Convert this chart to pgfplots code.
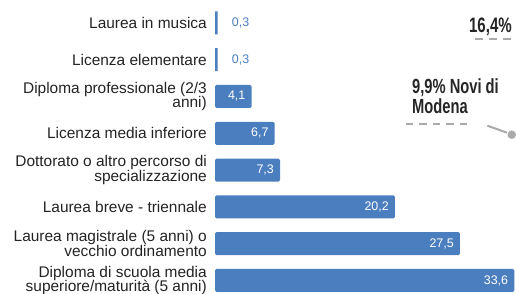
\documentclass[border=0pt]{standalone}
\usepackage{fontspec}
\setmainfont{Liberation Sans}
\newfontfamily\condfont[FakeStretch=0.72,UprightFont=*-Bold]{Liberation Sans}
\usepackage{pgfplots}
\pgfplotsset{compat=1.18}
\definecolor{barblue}{RGB}{74,126,190}
\definecolor{labelgray}{RGB}{35,35,35}
\definecolor{dashgray}{RGB}{170,170,170}
\begin{document}
\begin{tikzpicture}[x=1bp,y=1bp]
\useasboundingbox (0,0) rectangle (516,293);
\begin{axis}[
  at={(215bp,0bp)}, anchor=south west,
  scale only axis, width=301bp, height=293bp,
  xmin=0, xmax=33.79, ymin=-0.34, ymax=7.622,
  axis line style={draw=none}, xtick=\empty,
  ytick={0,1,2,3,4,5,6,7}, major tick length=0pt,
  yticklabels={{Diploma di scuola media\\superiore/maturità (5 anni)},
    {Laurea magistrale (5 anni) o\\vecchio ordinamento},
    {Laurea breve - triennale},
    {Dottorato o altro percorso di\\specializzazione},
    {Licenza media inferiore},
    {Diploma professionale (2/3\\anni)},
    {Licenza elementare},
    {Laurea in musica}},
  yticklabel style={align=right, font=\fontsize{15.5}{14.8}\selectfont, text=labelgray, inner sep=0pt, xshift=-8bp},
  clip=false,
  /pgf/number format/use comma,
  /pgf/number format/fixed,
  /pgf/number format/fixed zerofill,
  /pgf/number format/precision=1,
  /pgf/number format/assume math mode=true,
]
\addplot[xbar, bar width=23bp, bar shift=0pt, fill=barblue, draw=none, rounded corners=1.5bp,
  point meta=x, nodes near coords,
  nodes near coords style={anchor=east, text=white, font=\fontsize{12.5}{13}\selectfont, inner sep=0pt, xshift=-6bp}]
  coordinates {(33.6,0) (27.5,1) (20.2,2) (7.3,3) (6.7,4) (4.1,5)};
\addplot[xbar, bar width=23bp, bar shift=0pt, fill=barblue, draw=none,
  point meta=x, nodes near coords,
  nodes near coords style={anchor=west, text=barblue, font=\fontsize{12.5}{13}\selectfont, inner sep=0pt, xshift=14bp}]
  coordinates {(0.3,6) (0.3,7)};
\addplot[dashgray, line width=2bp, dash pattern=on 8bp off 6bp, forget plot] coordinates {(29.19,6.549) (33.23,6.549)};
\addplot[dashgray, line width=2bp, dash pattern=on 7.5bp off 6bp, forget plot] coordinates {(21.44,4.245) (28.51,4.245)};
\addplot[dashgray, line width=2bp, forget plot] coordinates {(30.57,4.207) (32.78,4.016)};
\addplot[dashgray, only marks, mark=*, mark size=4bp, forget plot] coordinates {(33.31,3.962)};
\end{axis}
\node[anchor=base east, font=\condfont\fontsize{21}{20}\selectfont, text=black!85, inner sep=0pt] at (512,261) {16,4\%};
\node[anchor=base west, font=\condfont\fontsize{20.5}{20}\selectfont, text=black!85, inner sep=0pt] at (412,200) {9,9\% Novi di};
\node[anchor=base west, font=\condfont\fontsize{20.5}{20}\selectfont, text=black!85, inner sep=0pt] at (412,179.5) {Modena};
\end{tikzpicture}
\end{document}
